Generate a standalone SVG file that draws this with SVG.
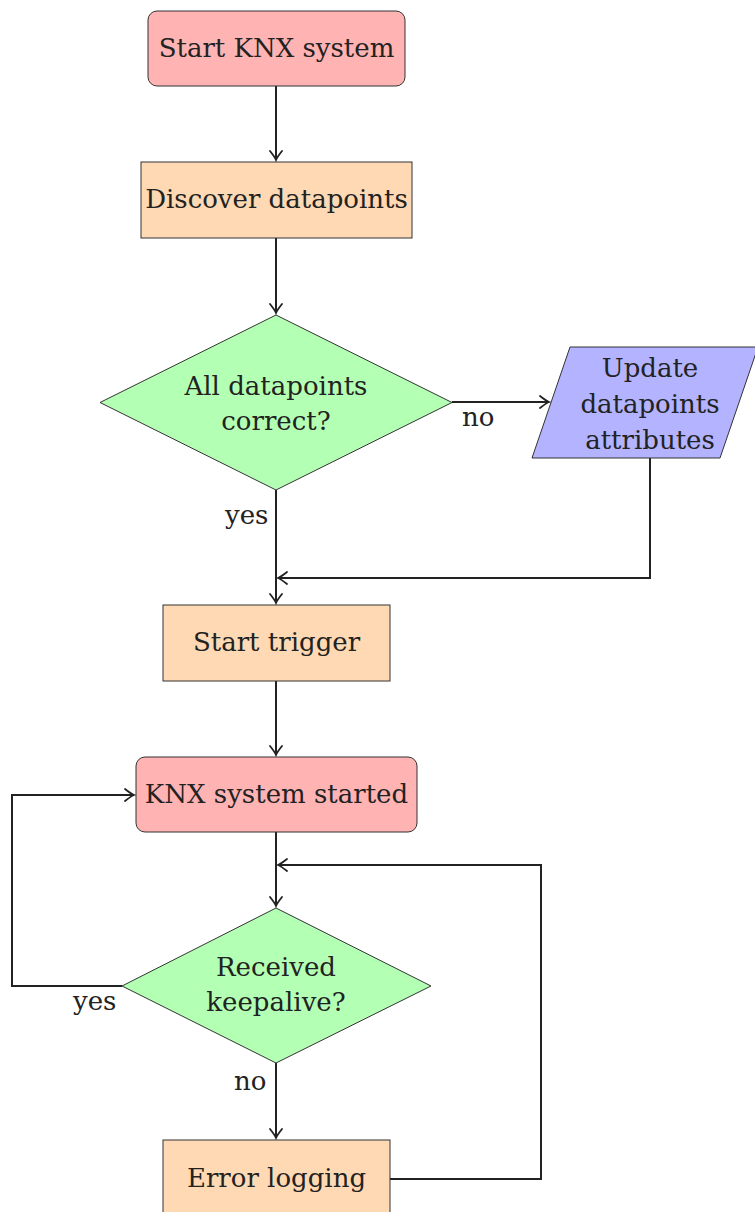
<svg xmlns="http://www.w3.org/2000/svg" width="755" height="1212" viewBox="0 0 755 1212">
  <style>
    .node { stroke: #333; stroke-width: 1; }
    .startstop { fill: #ffb3b3; }
    .process { fill: #ffd9b3; }
    .decision { fill: #b3ffb3; }
    .io { fill: #b3b3ff; }
    text { font-size: 26px; fill: #222; text-anchor: middle; }
    .lbl { text-anchor: start; }
    .conn { fill: none; stroke: #222; stroke-width: 2; }
  </style>
  <defs>
    <marker id="arrow" markerUnits="userSpaceOnUse" viewBox="-10 -7 12 14" refX="0" refY="0" markerWidth="12" markerHeight="14" orient="auto">
      <path d="M -9 -6 Q -3 -1.2 0 0 Q -3 1.2 -9 6" fill="none" stroke="#222" stroke-width="1.8" stroke-linecap="round"/>
    </marker>
  </defs>

  <g id="connectors" font-family="DejaVu Serif, serif">
    <path class="conn" d="M 276 86 L 276 160" marker-end="url(#arrow)"/>
    <path class="conn" d="M 276 238 L 276 313" marker-end="url(#arrow)"/>
    <path class="conn" d="M 452 402 L 549 402" marker-end="url(#arrow)"/>
    <path class="conn" d="M 276 490 L 276 603" marker-end="url(#arrow)"/>
    <path class="conn" d="M 650 458 L 650 578 L 278 578" marker-end="url(#arrow)"/>
    <path class="conn" d="M 276 681 L 276 755" marker-end="url(#arrow)"/>
    <path class="conn" d="M 276 832 L 276 906" marker-end="url(#arrow)"/>
    <path class="conn" d="M 122 986 L 12 986 L 12 795 L 134 795" marker-end="url(#arrow)"/>
    <path class="conn" d="M 276 1063 L 276 1138" marker-end="url(#arrow)"/>
    <path class="conn" d="M 390 1179 L 541 1179 L 541 865 L 278 865" marker-end="url(#arrow)"/>
    <text class="lbl" x="462" y="426">no</text>
    <text class="lbl" x="225" y="524">yes</text>
    <text class="lbl" x="73" y="1010">yes</text>
    <text class="lbl" x="234" y="1090">no</text>
  </g>

  <g id="nodes" font-family="DejaVu Serif, serif">
    <g id="start">
      <rect class="node startstop" x="148" y="11" width="257" height="75" rx="9"/>
      <text x="276.5" y="57">Start KNX system</text>
    </g>

    <g id="discover">
      <rect class="node process" x="141" y="162" width="271" height="76"/>
      <text x="276.5" y="208">Discover datapoints</text>
    </g>

    <g id="check-datapoints">
      <polygon class="node decision" points="276,315 452,402.5 276,490 100,402.5"/>
      <text x="276" y="395">All datapoints</text>
      <text x="276" y="430">correct?</text>
    </g>

    <g id="update-attributes">
      <polygon class="node io" points="570,347 758,347 720,458 532,458"/>
      <text x="650" y="377">Update</text>
      <text x="650" y="413">datapoints</text>
      <text x="650" y="449">attributes</text>
    </g>

    <g id="start-trigger">
      <rect class="node process" x="163" y="605" width="227" height="76"/>
      <text x="276.5" y="651">Start trigger</text>
    </g>

    <g id="system-started">
      <rect class="node startstop" x="136" y="757" width="281" height="75" rx="9"/>
      <text x="276.5" y="803">KNX system started</text>
    </g>

    <g id="check-keepalive">
      <polygon class="node decision" points="276,908 431,986 276,1063 122,986"/>
      <text x="276" y="976">Received</text>
      <text x="276" y="1011">keepalive?</text>
    </g>

    <g id="error-logging">
      <rect class="node process" x="163" y="1140" width="227" height="80"/>
      <text x="276.5" y="1187">Error logging</text>
    </g>
  </g>
</svg>
